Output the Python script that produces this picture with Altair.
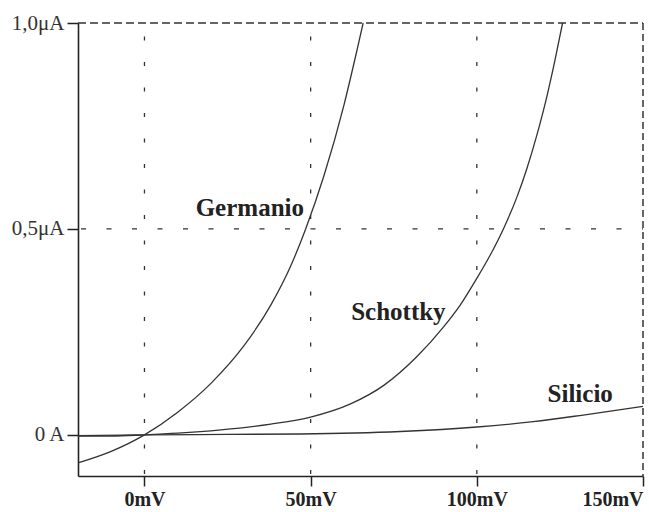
import altair as alt
import pandas as pd

# Diode I–V characteristics (voltage in mV, current in µA)
ge_v = [-20, -10, 0, 10, 20, 30, 38, 44, 48.5, 54, 60, 64, 65.8]
ge_i = [-0.068, -0.04, 0, 0.055, 0.125, 0.217, 0.315, 0.41, 0.5, 0.629, 0.8, 0.936, 1.0]

sch_v = [-20, -10, 0, 10, 23, 38, 50, 62, 72, 82, 90, 95, 100, 104, 108, 112, 115, 118, 121, 123.5, 125.8]
sch_i = [-0.003, -0.003, 0, 0.004, 0.012, 0.026, 0.043, 0.075, 0.12, 0.19, 0.262, 0.315, 0.38,
         0.436, 0.5, 0.576, 0.645, 0.726, 0.819, 0.909, 1.0]

si_v = [-20, 0, 25, 47, 77, 100, 117, 132, 150]
si_i = [-0.002, 0, 0.001, 0.002, 0.008, 0.019, 0.032, 0.048, 0.069]

label_names = ["Germanio", "Schottky", "Silicio"]
label_v = [31.7, 76.4, 131.1]
label_i = [0.55, 0.298, 0.099]

x_ticks = [0, 50, 100, 150]
x_tick_labels = ["0mV", "50mV", "100mV", "150mV"]
y_ticks = [0, 0.5, 1.0]
y_tick_labels = ["0 A", "0,5μA", "1,0μA"]

grid_x = [0, 50, 100]
grid_y = [0.5]

x_min, x_max = -20, 150
y_min, y_max = -0.1, 1.0

rows = []
for name, vs, cs in (("Germanio", ge_v, ge_i), ("Schottky", sch_v, sch_i), ("Silicio", si_v, si_i)):
    for k, (v, c) in enumerate(zip(vs, cs)):
        rows.append({"serie": name, "orden": k, "V": v, "I": c})
curves = pd.DataFrame(rows)
labels = pd.DataFrame({"nombre": label_names, "V": label_v, "I": label_i})

x_scale = alt.Scale(domain=[x_min, x_max], nice=False, zero=False)
y_scale = alt.Scale(domain=[y_min, y_max], nice=False, zero=False)

serif = "Liberation Serif"
ink = "#333333"

x_label_expr = " : ".join(
    f"datum.value == {v} ? '{t}'" for v, t in zip(x_ticks, x_tick_labels)
) + " : ''"
y_label_expr = " : ".join(
    f"datum.value == {v} ? '{t}'" for v, t in zip(y_ticks, y_tick_labels)
) + " : ''"

x_axis = alt.Axis(
    values=x_ticks, labelExpr=x_label_expr, title=None, grid=False,
    domainColor="#222222", domainWidth=1.6, tickColor="#222222", tickWidth=1.5,
    tickSize=10, labelFont=serif, labelFontSize=20, labelFontWeight="bold",
    labelColor="#222222", labelPadding=3, labelFlush=True, labelOverlap=False,
)
y_axis = alt.Axis(
    values=y_ticks, labelExpr=y_label_expr, title=None, grid=False,
    domainColor="#222222", domainWidth=1.6, tickColor="#222222", tickWidth=1.5,
    tickSize=11, labelFont=serif, labelFontSize=21, labelColor="#333333",
    labelPadding=3, labelFlush=False, labelOverlap=False,
)

lines = alt.Chart(curves).mark_line(color=ink, strokeWidth=1.3, interpolate="monotone").encode(
    x=alt.X("V:Q", scale=x_scale, axis=x_axis),
    y=alt.Y("I:Q", scale=y_scale, axis=y_axis),
    detail="serie:N",
    order="orden:Q",
)

# Dotted reference lines inside the frame
vgrid = alt.Chart(pd.DataFrame({"V": grid_x})).mark_rule(
    color=ink, strokeWidth=1.3, strokeDash=[4, 21.5], strokeDashOffset=12
).encode(x=alt.X("V:Q", scale=x_scale), y=alt.datum(y_max), y2=alt.datum(y_min))

hgrid = alt.Chart(pd.DataFrame({"I": grid_y})).mark_rule(
    color=ink, strokeWidth=1.3, strokeDash=[5, 20.5], strokeDashOffset=-3
).encode(y=alt.Y("I:Q", scale=y_scale), x=alt.datum(x_min), x2=alt.datum(x_max))

# Dashed top and right edges of the frame
top_edge = alt.Chart(pd.DataFrame({"I": [y_max]})).mark_rule(
    color=ink, strokeWidth=1.5, strokeDash=[8, 4]
).encode(y=alt.Y("I:Q", scale=y_scale), x=alt.datum(x_min), x2=alt.datum(x_max))

right_edge = alt.Chart(pd.DataFrame({"V": [x_max]})).mark_rule(
    color=ink, strokeWidth=1.5, strokeDash=[7, 4]
).encode(x=alt.X("V:Q", scale=x_scale), y=alt.datum(y_max), y2=alt.datum(y_min))

text = alt.Chart(labels).mark_text(
    font=serif, fontSize=25, fontWeight="bold", color="#222222", align="center", baseline="middle"
).encode(
    x=alt.X("V:Q", scale=x_scale),
    y=alt.Y("I:Q", scale=y_scale),
    text="nombre:N",
)

chart = alt.layer(vgrid, hgrid, top_edge, right_edge, lines, text).properties(
    width=565,
    height=453,
    padding={"left": 78, "top": 23, "right": 6, "bottom": 36},
    autosize=alt.AutoSizeParams(type="none"),
    background="white",
).configure_view(stroke=None)

chart.save("out.html", embed_options={"renderer": "svg", "actions": False})
